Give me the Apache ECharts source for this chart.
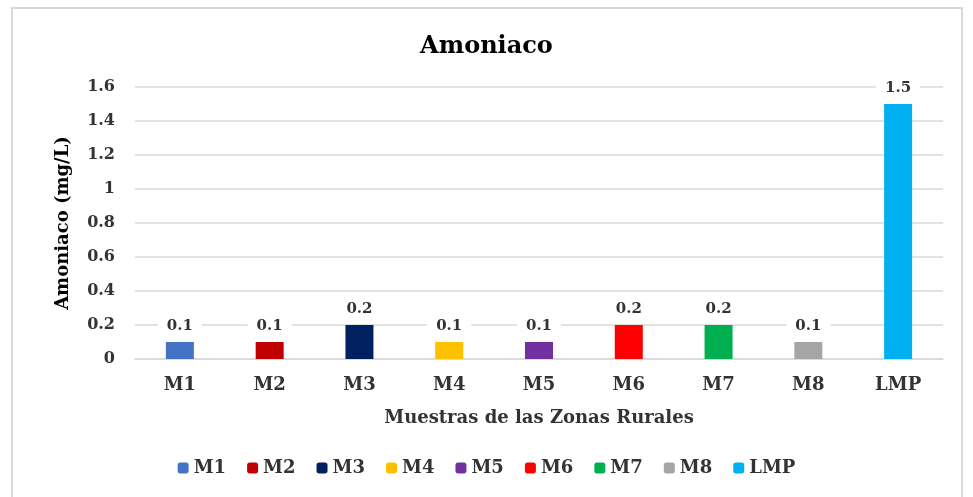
<!DOCTYPE html>
<html><head><meta charset="utf-8">
<script src="https://cdn.jsdelivr.net/npm/echarts@6/dist/echarts.min.js"></script>
<style>html,body{margin:0;padding:0;background:#fff}#c{width:973px;height:497px}</style>
</head><body><div id="c"></div>
<script>
const categories = ['M1','M2','M3','M4','M5','M6','M7','M8','LMP'];
const values = [0.1, 0.1, 0.2, 0.1, 0.1, 0.2, 0.2, 0.1, 1.5];
const colors = ['#4472C4','#C00000','#002060','#FFC000','#7030A0','#FF0000','#00B050','#A5A5A5','#00B0F0'];
const yTicks = [0, 0.2, 0.4, 0.6, 0.8, 1, 1.2, 1.4, 1.6];

const font = '"DejaVu Serif", serif';
const txt = '#333333';
const series = categories.map((name, i) => ({
  name: name,
  type: 'bar',
  stack: 'all',
  barWidth: 28,
  itemStyle: { color: colors[i] },
  data: categories.map((_, j) => j === i ? values[i] : null),
  label: {
    show: true, position: 'top', distance: 8,
    fontFamily: font, fontWeight: 'bold', fontSize: 15, color: txt,
    backgroundColor: '#fff', padding: [0, 9],
    formatter: p => p.value == null ? '' : String(p.value)
  }
}));

const chart = echarts.init(document.getElementById('c'));
chart.setOption({
  animation: false,
  graphic: [{ type: 'rect', shape: { x: 12, y: 8, width: 950, height: 495 }, style: { fill: 'none', stroke: '#d9d9d9', lineWidth: 2 } }],
  title: { text: 'Amoniaco', left: 'center', top: 30, textStyle: { fontFamily: font, fontWeight: 'bold', fontSize: 24, color: '#000' } },
  grid: { left: 135, right: 30, top: 87, bottom: 138 },
  legend: {
    bottom: 15, left: 'center', itemWidth: 11, itemHeight: 11, itemGap: 21,
    data: categories,
    textStyle: { fontFamily: font, fontWeight: 'bold', fontSize: 18, color: txt, padding: [0, 0, 0, 0] }
  },
  xAxis: {
    type: 'category', data: categories,
    name: 'Muestras de las Zonas Rurales', nameLocation: 'middle', nameGap: 50,
    nameTextStyle: { fontFamily: font, fontWeight: 'bold', fontSize: 18, color: txt },
    axisLine: { lineStyle: { color: '#d9d9d9', width: 1.5 } },
    axisTick: { show: false },
    axisLabel: { fontFamily: font, fontWeight: 'bold', fontSize: 18, color: txt, margin: 17 }
  },
  yAxis: {
    type: 'value', min: 0, max: 1.6, interval: 0.2,
    name: 'Amoniaco (mg/L)', nameLocation: 'middle', nameGap: 63,
    nameTextStyle: { fontFamily: font, fontWeight: 'bold', fontSize: 18, color: '#000' },
    axisLine: { show: false }, axisTick: { show: false },
    splitLine: { lineStyle: { color: '#d9d9d9', width: 1.5 } },
    axisLabel: { fontFamily: font, fontWeight: 'bold', fontSize: 16, color: txt, margin: 20,
      formatter: v => { const t = yTicks.find(x => Math.abs(x - v) < 1e-9); return String(t !== undefined ? t : v); } }
  },
  series: series
});
</script></body></html>
